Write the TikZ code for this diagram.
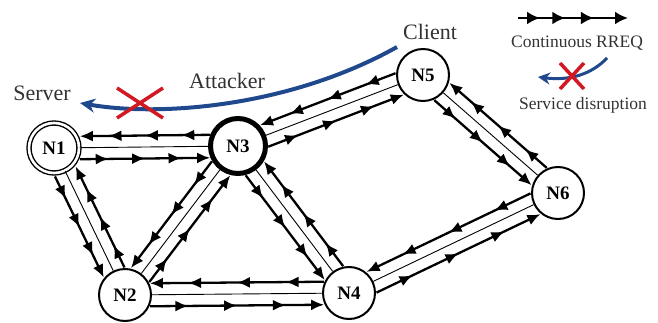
\documentclass[tikz,border=0pt]{standalone}
\usepackage{fontspec}
\setmainfont{Liberation Serif}
\usetikzlibrary{arrows.meta,calc,decorations.markings}
\definecolor{linkblue}{RGB}{31,73,140}
\definecolor{crossred}{RGB}{210,25,35}
\definecolor{labelgray}{RGB}{50,50,50}
\newcommand{\rgap}{11.5pt}
\tikzset{
    netnode/.style={
        circle,
        draw=black,
        line width=2pt,
        minimum size=52pt,
        inner sep=0pt,
        fill=white,
        font=\fontsize{19}{19}\selectfont\bfseries
    },
    servernode/.style={netnode, line width=1.4pt, double, double distance=2.6pt, minimum size=50pt},
    attackernode/.style={netnode, line width=5pt, minimum size=55pt},
    midline/.style={line width=0.9pt},
    rreq/.style={
        line width=2.3pt,
        -{Latex[length=13pt,width=11pt]},
        postaction={decorate},
        decoration={markings,
            mark=at position 0.22 with {\arrow{Latex[length=13pt,width=11pt]}},
            mark=at position 0.5 with {\arrow{Latex[length=13pt,width=11pt]}},
            mark=at position 0.78 with {\arrow{Latex[length=13pt,width=11pt]}}}
    },
    legendreq/.style={
        line width=2.5pt,
        -{Latex[length=13pt,width=13pt]},
        postaction={decorate},
        decoration={markings,
            mark=at position 0.2 with {\arrow{Latex[length=13pt,width=13pt]}},
            mark=at position 0.43 with {\arrow{Latex[length=13pt,width=13pt]}},
            mark=at position 0.69 with {\arrow{Latex[length=13pt,width=13pt]}}}
    },
    disrupt/.style={draw=linkblue, line width=4pt, -{Stealth[length=15pt,width=14pt]}},
    cross/.style={draw=crossred, line width=3.5pt},
    tag/.style={text=labelgray, font=\fontsize{22}{22}\selectfont},
    legendtag/.style={text=labelgray, font=\fontsize{17.5}{17.5}\selectfont}
}
% one RREQ line on the right-hand side of from -> to
\newcommand{\rreqline}[4]{%
    \path ($(#1)!\rgap!-90:(#2)$) coordinate (rr-s) ($(#2)!\rgap!90:(#1)$) coordinate (rr-t);
    \draw[rreq] ($(rr-s)!#3!(rr-t)$) -- ($(rr-t)!#4!(rr-s)$);
}
% a link: thin middle line plus RREQ both ways
\newcommand{\rreqpair}[4]{%
    \draw[midline] (#1) -- (#2);
    \rreqline{#1}{#2}{#3}{#4}
    \rreqline{#2}{#1}{#4}{#3}
}

\begin{document}
\begin{tikzpicture}[x=1pt,y=1pt]
\useasboundingbox (0,0) rectangle (658,322);

% nodes
\node[servernode] (N1) at (54,174) {N1};
\node[netnode] (N2) at (125,27) {N2};
\node[attackernode] (N3) at (238,176) {N3};
\node[netnode] (N4) at (349,29) {N4};
\node[netnode] (N5) at (423,247) {N5};
\node[netnode] (N6) at (558,129) {N6};

% links
\rreqpair{N1}{N3}{26pt}{28pt}
\rreqpair{N1}{N2}{26pt}{25pt}
\rreqpair{N2}{N3}{25pt}{28pt}
\rreqpair{N3}{N4}{28pt}{25pt}
\rreqpair{N2}{N4}{25pt}{25pt}
\rreqpair{N3}{N5}{28pt}{25pt}
\rreqpair{N5}{N6}{25pt}{25pt}
\rreqpair{N4}{N6}{25pt}{25pt}

% labels
\node[tag] (server) at (42,229) {Server};
\node[tag] (attacker) at (227,241) {Attacker};
\node[tag] (client) at (430,290) {Client};

% disrupted service path
\coordinate (att-from) at (397,275);
\coordinate (srv-to) at (80,219);
\draw[disrupt] (att-from) .. controls (290,215) and (160,205) .. (srv-to);
\draw[cross] (117,204) -- (163,234);
\draw[cross] (117,234) -- (163,204);

% legend
\coordinate (leg-a) at (518,304);
\coordinate (leg-b) at (628,304);
\draw[legendreq] (leg-a) -- (leg-b);
\node[legendtag] (leg-rreq) at (577,279) {Continuous RREQ};
\coordinate (leg-from) at (607,264);
\coordinate (leg-to) at (538,245);
\draw[disrupt, line width=3pt, -{Stealth[length=12pt,width=12pt]}] (leg-from) .. controls (592,248) and (570,241) .. (leg-to);
\draw[cross] (560,233) -- (584,259);
\draw[cross] (560,259) -- (584,233);
\node[legendtag] (leg-dis) at (583,217) {Service disruption};
\end{tikzpicture}
\end{document}
